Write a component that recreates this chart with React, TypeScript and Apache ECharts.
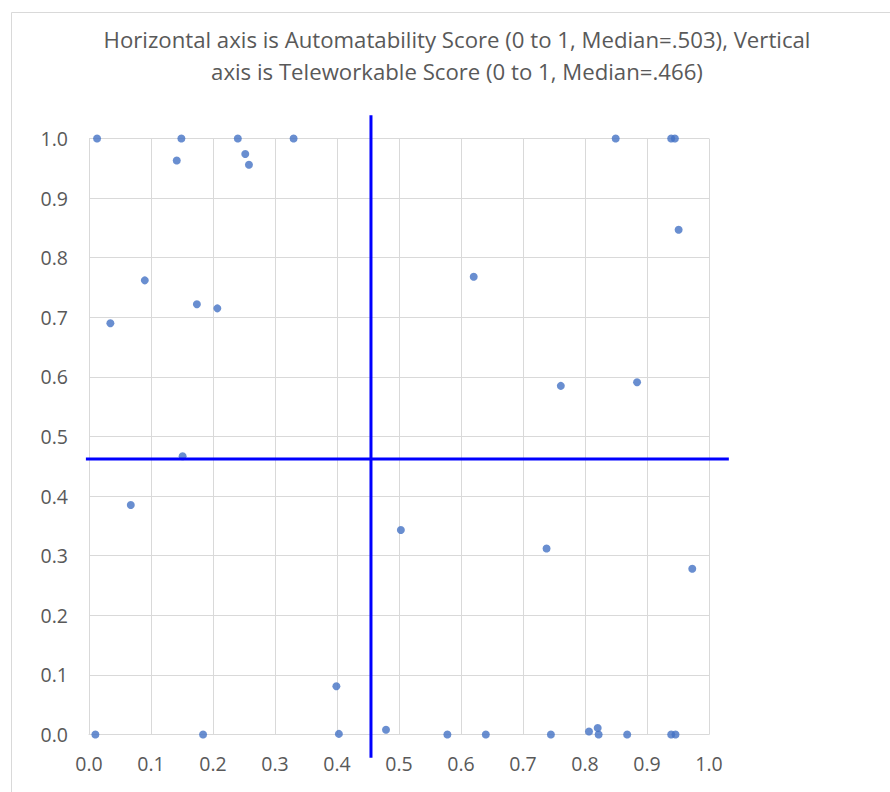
import React, { useEffect, useRef } from "react";
import * as echarts from "echarts";

const titleLines = [
  "Horizontal axis is Automatability Score (0 to 1, Median=.503), Vertical",
  "axis is Teleworkable Score (0 to 1, Median=.466)",
];

// Automatability score (horizontal) and teleworkable score (vertical) for each occupation
const automatability = [
  0.013, 0.149, 0.1415, 0.24, 0.252, 0.258, 0.33, 0.09, 0.0345, 0.174, 0.207,
  0.8495, 0.939, 0.945, 0.951, 0.6205, 0.761, 0.884, 0.738, 0.973,
  0.151, 0.0674, 0.503,
  0.0103, 0.184, 0.399, 0.403, 0.479, 0.578, 0.64, 0.745, 0.8065, 0.8205, 0.822, 0.868, 0.939, 0.946,
];
const teleworkable = [
  1.0, 1.0, 0.963, 1.0, 0.974, 0.956, 1.0, 0.762, 0.69, 0.722, 0.715,
  1.0, 1.0, 1.0, 0.847, 0.768, 0.585, 0.591, 0.312, 0.278,
  0.467, 0.385, 0.343,
  0.0, 0.0, 0.081, 0.001, 0.008, 0.0, 0.0, 0.0, 0.005, 0.011, 0.0, 0.0, 0.0, 0.0,
];

// Reference (median) lines as drawn on the chart: [x1, y1, x2, y2]
const verticalLine = [0.4548, -0.039, 0.4548, 1.039];
const horizontalLine = [-0.005, 0.4623, 1.032, 0.4623];

const axisTicks = [0, 0.1, 0.2, 0.3, 0.4, 0.5, 0.6, 0.7, 0.8, 0.9, 1.0];

const FONT = "'Open Sans', 'Noto Sans', sans-serif";
const TEXT = "#595959";
const GRID = "#D9D9D9";

export default function App() {
  const ref = useRef<HTMLDivElement>(null);

  useEffect(() => {
    if (!ref.current) return;
    const chart = echarts.init(ref.current, null, { renderer: "svg" });
    const points = automatability.map((x, i) => [x, teleworkable[i]]);
    const axisCommon = {
      type: "value" as const,
      min: axisTicks[0],
      max: axisTicks[axisTicks.length - 1],
      interval: 0.1,
      axisLine: { show: true, lineStyle: { color: GRID, width: 1 } },
      axisTick: { show: false },
      splitLine: { show: true, lineStyle: { color: GRID, width: 1 } },
      axisLabel: {
        color: TEXT,
        fontFamily: FONT,
        fontSize: 19.5,
        formatter: (v: number) => v.toFixed(1),
      },
    };
    chart.setOption({
      animation: false,
      backgroundColor: "#ffffff",
      title: {
        text: titleLines.join("\n"),
        left: 457,
        top: 23,
        padding: 0,
        textAlign: "center",
        textStyle: {
          color: TEXT,
          fontFamily: FONT,
          fontSize: 22.2,
          fontWeight: "normal",
          lineHeight: 32,
        },
      },
      graphic: [
        {
          type: "rect",
          shape: { x: 11.5, y: 12.5, width: 892, height: 900 },
          style: { fill: "none", stroke: GRID, lineWidth: 1 },
          silent: true,
          z: -10,
        },
      ],
      grid: { left: 89, top: 138.5, width: 620, height: 596, containLabel: false },
      xAxis: { ...axisCommon, axisLabel: { ...axisCommon.axisLabel, margin: 19 } },
      yAxis: { ...axisCommon, axisLabel: { ...axisCommon.axisLabel, margin: 21 } },
      series: [
        {
          type: "scatter",
          data: points,
          symbol: "circle",
          symbolSize: 8,
          clip: false,
          itemStyle: { color: "#4472C4" },
          z: 3,
        },
        {
          type: "custom",
          data: [verticalLine, horizontalLine],
          encode: { x: [0, 2], y: [1, 3] },
          clip: false,
          z: 4,
          renderItem: (params: any, api: any) => {
            const p1 = api.coord([api.value(0), api.value(1)]);
            const p2 = api.coord([api.value(2), api.value(3)]);
            return {
              type: "line",
              shape: { x1: p1[0], y1: p1[1], x2: p2[0], y2: p2[1] },
              style: { stroke: "#0000FF", lineWidth: 3, lineCap: "butt" },
            };
          },
        },
      ],
    });
    return () => chart.dispose();
  }, []);

  return (
    <div
      ref={ref}
      style={{ position: "fixed", left: 0, top: 0, width: 890, height: 792 }}
    />
  );
}
